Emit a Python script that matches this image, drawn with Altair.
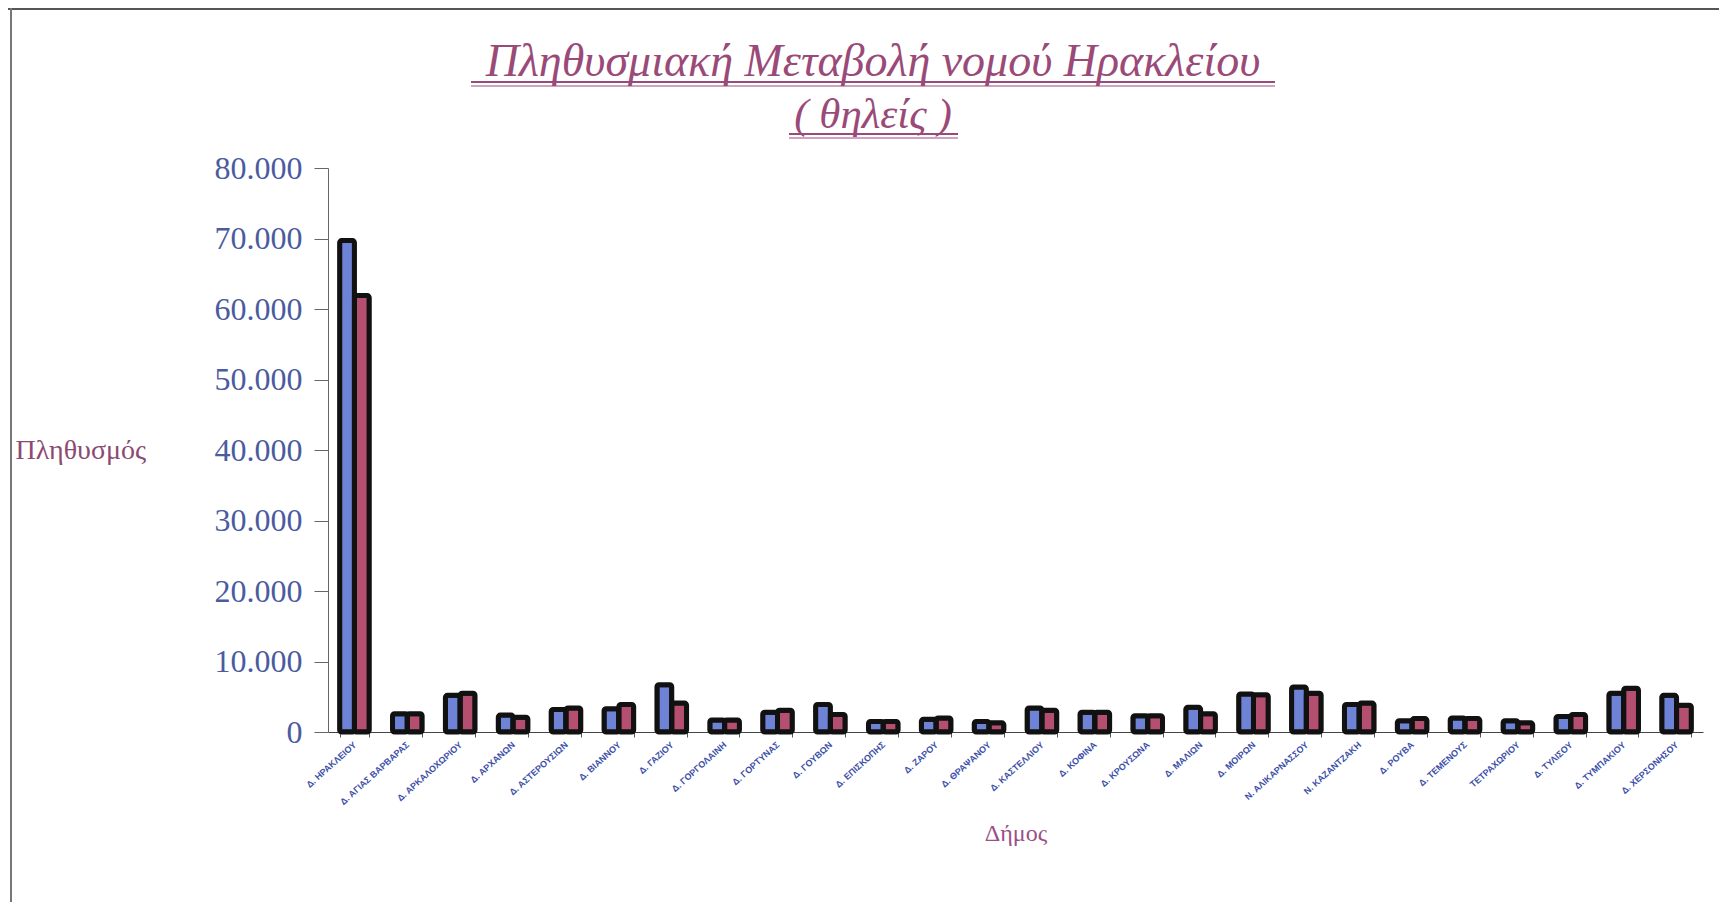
import altair as alt
import pandas as pd

municipalities = [
    "Δ. ΗΡΑΚΛΕΙΟΥ", "Δ. ΑΓΙΑΣ ΒΑΡΒΑΡΑΣ", "Δ. ΑΡΚΑΛΟΧΩΡΙΟΥ", "Δ. ΑΡΧΑΝΩΝ",
    "Δ. ΑΣΤΕΡΟΥΣΙΩΝ", "Δ. ΒΙΑΝΝΟΥ", "Δ. ΓΑΖΙΟΥ", "Δ. ΓΟΡΓΟΛΑΙΝΗ",
    "Δ. ΓΟΡΤΥΝΑΣ", "Δ. ΓΟΥΒΩΝ", "Δ. ΕΠΙΣΚΟΠΗΣ", "Δ. ΖΑΡΟΥ",
    "Δ. ΘΡΑΨΑΝΟΥ", "Δ. ΚΑΣΤΕΛΛΙΟΥ", "Δ. ΚΟΦΙΝΑ", "Δ. ΚΡΟΥΣΩΝΑ",
    "Δ. ΜΑΛΙΩΝ", "Δ. ΜΟΙΡΩΝ", "Ν. ΑΛΙΚΑΡΝΑΣΣΟΥ", "Ν. ΚΑΖΑΝΤΖΑΚΗ",
    "Δ. ΡΟΥΒΑ", "Δ. ΤΕΜΕΝΟΥΣ", "ΤΕΤΡΑΧΩΡΙΟΥ", "Δ. ΤΥΛΙΣΟΥ",
    "Δ. ΤΥΜΠΑΚΙΟΥ", "Δ. ΧΕΡΣΟΝΗΣΟΥ",
]
series_names = ["1991", "2001"]
females_1991 = [69700, 2600, 5200, 2400, 3200, 3300, 6700, 1700, 2800, 3900,
                1500, 1800, 1500, 3400, 2800, 2300, 3500, 5400, 6400, 3900,
                1600, 2000, 1600, 2200, 5500, 5200]
females_2001 = [61900, 2600, 5500, 2100, 3400, 3900, 4100, 1700, 3100, 2500,
                1500, 2000, 1300, 3100, 2800, 2300, 2600, 5300, 5500, 4100,
                1900, 1900, 1300, 2500, 6200, 3800]
bar_colors = ["#6e82d6", "#b44f70"]
title_lines = ["Πληθυσμιακή Μεταβολή νομού Ηρακλείου", "( θηλείς )"]

rows = []
for i, m in enumerate(municipalities):
    rows.append({"Δήμος": m, "Σειρά": series_names[0], "Πληθυσμός": females_1991[i]})
    rows.append({"Δήμος": m, "Σειρά": series_names[1], "Πληθυσμός": females_2001[i]})
df = pd.DataFrame(rows)

SERIF = "Liberation Serif"
title_color = "#9a4a78"

bars = alt.Chart(df).mark_bar(
    stroke="#111111", strokeWidth=5, strokeJoin="round", cornerRadius=2
).encode(
    x=alt.X(
        "Δήμος:N", sort=municipalities,
        scale=alt.Scale(paddingInner=0.44, paddingOuter=0.22),
        axis=alt.Axis(
            title="Δήμος", tickBand="extent", labelAngle=-42, labelAlign="right",
            labelBaseline="middle", labelFontSize=9, labelFontWeight="bold",
            labelFont="Liberation Sans", labelColor="#3c4fa8", labelPadding=6,
            tickSize=5, tickColor="#555555", domainColor="#444444",
            titleFont=SERIF, titleFontSize=24, titleFontWeight="normal",
            titleColor="#9b4f86", titleY=101, titleBaseline="middle",
        ),
    ),
    xOffset=alt.XOffset("Σειρά:N", sort=series_names,
                        scale=alt.Scale(paddingInner=0, paddingOuter=0)),
    y=alt.Y(
        "Πληθυσμός:Q",
        scale=alt.Scale(domain=[0, 80000]),
        axis=alt.Axis(
            values=list(range(0, 80001, 10000)),
            labelExpr="replace(format(datum.value, ','), ',', '.')",
            labelFont=SERIF, labelFontSize=32, labelColor="#4a5ba0",
            tickSize=14, labelPadding=12, tickColor="#666666", domainColor="#666666",
            grid=False,
            title="Πληθυσμός", titleAngle=0, titleX=-313, titleY=282,
            titleAlign="left", titleBaseline="middle", titleFont=SERIF,
            titleFontSize=28, titleFontWeight="normal", titleColor="#8c4a73",
        ),
    ),
    color=alt.Color("Σειρά:N", scale=alt.Scale(domain=series_names, range=bar_colors),
                    legend=None),
)

deco = pd.DataFrame({"k": [0]})
t1 = alt.Chart(deco).mark_text(
    text=title_lines[0], font=SERIF, fontStyle="italic", fontSize=46,
    color=title_color, align="center", baseline="alphabetic",
).encode(x=alt.value(545), y=alt.value(-92))
t2 = alt.Chart(deco).mark_text(
    text=title_lines[1], font=SERIF, fontStyle="italic", fontSize=43,
    color=title_color, align="center", baseline="alphabetic",
).encode(x=alt.value(545), y=alt.value(-40))
u1a = alt.Chart(deco).mark_rule(color=title_color, strokeWidth=2).encode(
    x=alt.value(143), x2=alt.value(947), y=alt.value(-86))
u1b = alt.Chart(deco).mark_rule(color=title_color, strokeWidth=1).encode(
    x=alt.value(143), x2=alt.value(947), y=alt.value(-82))
u2a = alt.Chart(deco).mark_rule(color=title_color, strokeWidth=2).encode(
    x=alt.value(461), x2=alt.value(630), y=alt.value(-34))
u2b = alt.Chart(deco).mark_rule(color=title_color, strokeWidth=1).encode(
    x=alt.value(461), x2=alt.value(630), y=alt.value(-30))
frame_top = alt.Chart(deco).mark_rule(color="#555555", strokeWidth=2).encode(
    x=alt.value(-330), x2=alt.value(1400), y=alt.value(-159))
frame_left = alt.Chart(deco).mark_rule(color="#777777", strokeWidth=2).encode(
    x=alt.value(-317), y=alt.value(-168), y2=alt.value(752))

chart = alt.layer(bars, t1, t2, u1a, u1b, u2a, u2b, frame_top, frame_left).properties(
    width=1375, height=564,
    autosize=alt.AutoSizeParams(type="none"),
    padding={"left": 320, "top": 160, "right": 16, "bottom": 170},
    background="white",
).configure_view(strokeWidth=0)

chart.save("out.html", embed_options={"renderer": "svg", "actions": False})
